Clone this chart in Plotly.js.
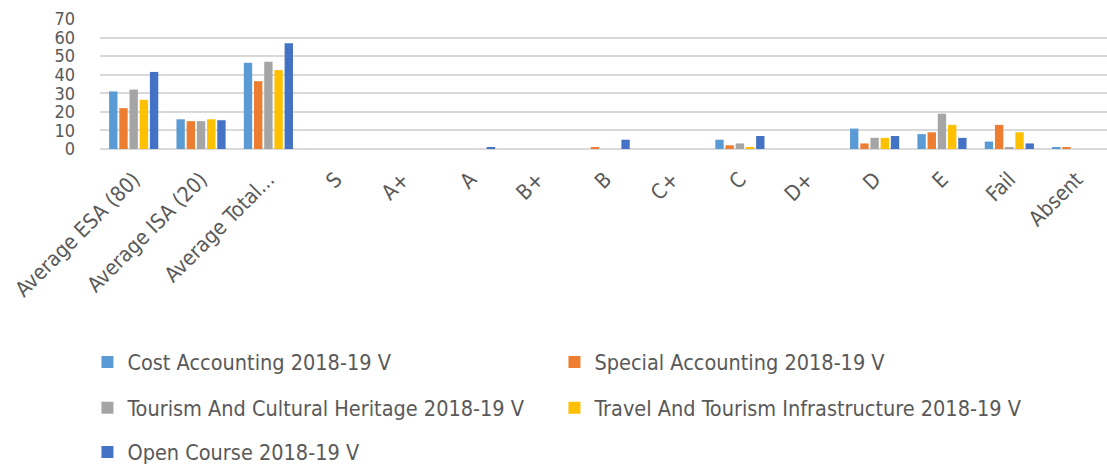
<!DOCTYPE html>
<html>
<head>
<meta charset="utf-8">
<script src="https://cdn.plot.ly/plotly-3.0.1.min.js"></script>
<style>
html,body{margin:0;padding:0;background:#fff;overflow:hidden;}
#chart{width:1107px;height:467px;}
</style>
</head>
<body>
<div id="chart"></div>
<script>
const categories = ["Average ESA (80)", "Average ISA (20)", "Average Total...", "S", "A+", "A", "B+", "B", "C+", "C", "D+", "D", "E", "Fail", "Absent"];
const seriesNames = ["Cost Accounting 2018-19 V", "Special Accounting 2018-19 V", "Tourism And Cultural Heritage 2018-19 V", "Travel And Tourism Infrastructure 2018-19 V", "Open Course 2018-19 V"];
const costAccounting    = [31, 16, 46.5, 0, 0, 0, 0, 0, 0, 5, 0, 11, 8, 4, 1];
const specialAccounting = [22, 15, 36.5, 0, 0, 0, 0, 1, 0, 2, 0, 3, 9, 13, 1];
const tourismHeritage   = [32, 15, 47, 0, 0, 0, 0, 0, 0, 3, 0, 6, 19, 1, 0];
const travelTourism     = [26.5, 16, 42.5, 0, 0, 0, 0, 0, 0, 1, 0, 6, 13, 9, 0];
const openCourse        = [41.5, 15.5, 57, 0, 0, 1, 0, 5, 0, 7, 0, 7, 6, 3, 0];
const colors = ["#5B9BD5", "#ED7D31", "#A5A5A5", "#FFC000", "#4472C4"];
const legendIds = ["legend", "legend", "legend2", "legend2", "legend3"];
const values = [costAccounting, specialAccounting, tourismHeritage, travelTourism, openCourse];

const FONT = "'DejaVu Sans Condensed', 'Liberation Sans Narrow', Arial, sans-serif";
const traces = values.map((v, i) => ({
  type: "bar",
  name: seriesNames[i],
  x: categories,
  y: v,
  marker: {color: colors[i], line: {width: 0}},
  legend: legendIds[i],
  hoverinfo: "x+y+name"
}));

const legendBase = {
  orientation: "h",
  entrywidth: 422,
  entrywidthmode: "pixels",
  xref: "container",
  yref: "container",
  xanchor: "left",
  yanchor: "middle",
  x: 0.079,
  font: {family: FONT, size: 21.5, color: "#595959"},
  bgcolor: "rgba(0,0,0,0)",
  itemwidth: 30,
  traceorder: "normal"
};

const layout = {
  width: 1107,
  height: 467,
  margin: {l: 100, r: 0, t: 18.7, b: 318},
  paper_bgcolor: "#fff",
  plot_bgcolor: "#fff",
  barmode: "group",
  bargap: 0.243,
  bargroupgap: 0.18,
  showlegend: true,
  xaxis: {
    type: "category",
    range: [-0.5, 14.45],
    tickangle: -45,
    tickfont: {family: FONT, size: 21, color: "#595959"},
    showgrid: false,
    showline: false,
    ticks: "",
    ticklabelstandoff: 13,
    fixedrange: true
  },
  yaxis: {
    range: [0, 70],
    dtick: 10,
    tickfont: {family: FONT, size: 18, color: "#595959"},
    showgrid: true,
    gridcolor: "#D9D9D9",
    gridwidth: 1.5,
    zeroline: true,
    zerolinecolor: "#D9D9D9",
    zerolinewidth: 2,
    showline: false,
    ticks: "",
    ticklabelstandoff: 24,
    fixedrange: true
  },
  legend: Object.assign({}, legendBase, {y: 0.225}),
  legend2: Object.assign({}, legendBase, {y: 0.127}),
  legend3: Object.assign({}, legendBase, {y: 0.032})
};

Plotly.newPlot("chart", traces, layout, {displayModeBar: false});
</script>
</body>
</html>
